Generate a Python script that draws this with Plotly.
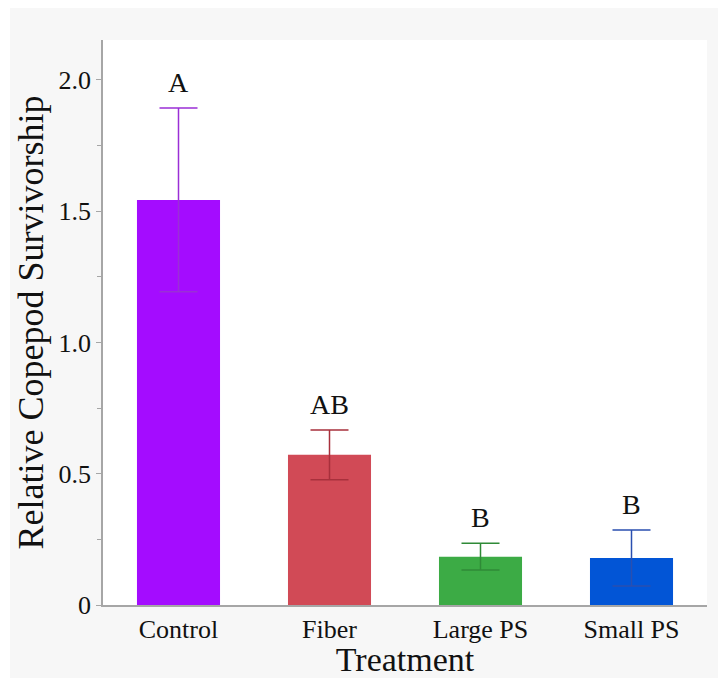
import plotly.graph_objects as go

categories = ["Control", "Fiber", "Large PS", "Small PS"]
means = [1.543, 0.572, 0.184, 0.179]
errors = [0.350, 0.095, 0.051, 0.107]
letters = ["A", "AB", "B", "B"]
bar_colors = ["#a40cff", "#d14a56", "#3cab45", "#0255d6"]
err_colors = ["#9a2fd6", "#a8303c", "#2f8a37", "#2a4fb0"]
y_tickvals = [0, 0.5, 1.0, 1.5, 2.0]
y_ticktext = ["0", "0.5", "1.0", "1.5", "2.0"]

FONT = "Liberation Serif"

fig = go.Figure()
for c, m, e, bc, ec in zip(categories, means, errors, bar_colors, err_colors):
    fig.add_trace(go.Bar(
        x=[c], y=[m], width=0.55,
        marker=dict(color=bc, line=dict(width=0)),
        error_y=dict(type="data", array=[e], visible=True, color=ec, thickness=1.5, width=19),
        showlegend=False,
    ))

for c, m, e, t in zip(categories, means, errors, letters):
    fig.add_annotation(x=c, y=m + e, text=t, showarrow=False, yanchor="bottom",
                       yshift=8, font=dict(family=FONT, size=28, color="#111"))

W, H = 718, 678
L, R, T, B = 103, 11, 40, 73
pw, ph = W - L - R, H - T - B
def px2x(px):
    return (px - L) / pw
def py2y(py):
    return (H - B - py) / ph

# white border strips around the grey panel
fig.add_shape(type="rect", xref="paper", yref="paper", x0=px2x(0), x1=px2x(W), y0=py2y(8), y1=py2y(0),
              fillcolor="white", line=dict(width=0), layer="below")
fig.add_shape(type="rect", xref="paper", yref="paper", x0=px2x(0), x1=px2x(10), y0=py2y(H), y1=py2y(0),
              fillcolor="white", line=dict(width=0), layer="below")

fig.update_layout(
    width=W, height=H,
    margin=dict(l=L, r=R, t=T, b=B, autoexpand=False),
    paper_bgcolor="#f7f7f7", plot_bgcolor="white",
    font=dict(family=FONT, color="#111"),
    bargap=0.45,
    xaxis=dict(
        range=[-0.5, 3.5], showline=True, linecolor="#a6a6a6", linewidth=1.5,
        ticks="", tickfont=dict(family=FONT, size=26, color="#111"), automargin=False,
        title=dict(text="Treatment", font=dict(family=FONT, size=34, color="#111"), standoff=4),
        showgrid=False, zeroline=False,
    ),
    yaxis=dict(
        range=[0, 2.152], showline=True, linecolor="#a6a6a6", linewidth=1.5,
        tickvals=y_tickvals, ticktext=y_ticktext, ticks="outside", ticklen=5,
        tickcolor="#a6a6a6", tickwidth=1, automargin=False,
        minor=dict(dtick=0.25, ticks="outside", ticklen=4, tickcolor="#a6a6a6", tickwidth=1, showgrid=False),
        tickfont=dict(family=FONT, size=26, color="#111"),
        title=dict(text="Relative Copepod Survivorship", font=dict(family=FONT, size=36, color="#111"), standoff=4),
        showgrid=False, zeroline=False,
    ),
)

fig.write_html("out.html")
